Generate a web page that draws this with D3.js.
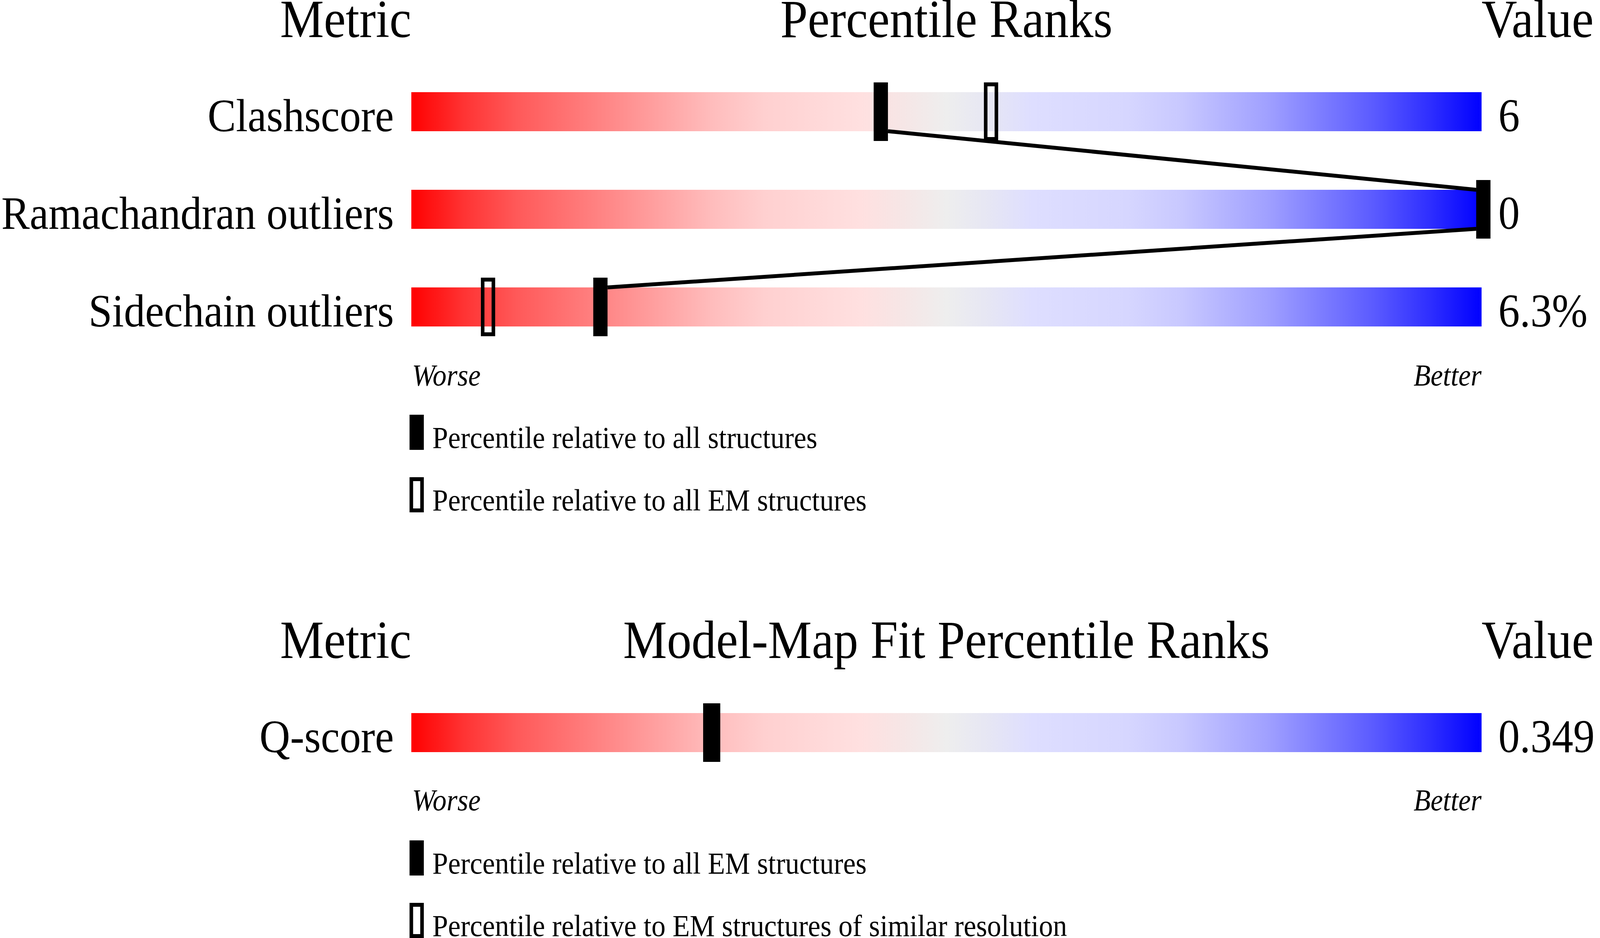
<!DOCTYPE html>
<html>
<head>
<meta charset="utf-8">
<script src="https://cdn.jsdelivr.net/npm/d3@7/dist/d3.min.js"></script>
<style>
  html, body { margin: 0; padding: 0; background: #ffffff; overflow: hidden; width: 100%; height: 100%; }
  svg { display: block; width: 100vw; height: 100vh; }
  text { font-family: "Liberation Serif", "Times New Roman", serif; fill: #000; }
</style>
</head>
<body>
<script>
// ---------------- DATA ----------------
const titles1 = ["Metric", "Percentile Ranks", "Value"];
const metrics1 = ["Clashscore", "Ramachandran outliers", "Sidechain outliers"];
const values1 = ["6", "0", "6.3%"];
const pctAll1 = [43.7, 100, 17.5];     // percentile relative to all structures (filled)
const pctEM1 = [54.0, null, 7.0];      // percentile relative to all EM structures (open)
const legend1 = ["Percentile relative to all structures", "Percentile relative to all EM structures"];

const titles2 = ["Metric", "Model-Map Fit Percentile Ranks", "Value"];
const metrics2 = ["Q-score"];
const values2 = ["0.349"];
const pctEM2 = [27.9];                 // percentile relative to all EM structures (filled)
const pctRes2 = [null];                // percentile relative to EM structures of similar resolution (open)
const legend2 = ["Percentile relative to all EM structures", "Percentile relative to EM structures of similar resolution"];

const axisEnds = ["Worse", "Better"];

const gradientStops = [
  [0.00, "#ff0000"], [0.05, "#ff3434"], [0.10, "#ff5a5a"], [0.20, "#ff9090"],
  [0.28, "#ffbcbc"], [0.33, "#ffd0d0"], [0.42, "#ffe0e0"], [0.46, "#f6e6e6"],
  [0.50, "#eeeeee"], [0.54, "#e6e6f4"], [0.58, "#dedeff"], [0.67, "#d6d6ff"],
  [0.72, "#c8c8ff"], [0.80, "#a0a0ff"], [0.90, "#5a5aff"], [0.95, "#3030ff"],
  [1.00, "#0000ff"]
];

// ---------------- LAYOUT ----------------
const W = 4485, H = 2402;
const barX0 = 1153, barX1 = 4153;
const labelGap = 49, valueGap = 47;
const markerShift = 5;

const svg = d3.select("body").append("svg")
  .attr("viewBox", `0 0 ${W} ${H}`)
  .attr("preserveAspectRatio", "none");

svg.append("rect").attr("width", W).attr("height", H).attr("fill", "#ffffff");

const grad = svg.append("defs").append("linearGradient")
  .attr("id", "rb").attr("x1", "0").attr("x2", "1").attr("y1", "0").attr("y2", "0");
grad.selectAll("stop").data(gradientStops).join("stop")
  .attr("offset", d => d[0]).attr("stop-color", d => d[1]);

const x = d3.scaleLinear().domain([0, 100]).range([barX0, barX1]);

function section(opts) {
  const g = svg.append("g");
  const y = d3.scaleBand().domain(opts.metrics)
    .range(opts.yRange).paddingInner(0.6).paddingOuter(0.3);
  const bh = y.bandwidth();
  const over = 25;

  // headers
  g.append("text").attr("x", barX0).attr("y", opts.headerY)
    .attr("text-anchor", "end").attr("font-size", 138).text(opts.titles[0]);
  g.append("text").attr("x", (barX0 + barX1) / 2).attr("y", opts.headerY)
    .attr("text-anchor", "middle").attr("font-size", 138).text(opts.titles[1]);
  g.append("text").attr("x", barX1).attr("y", opts.headerY)
    .attr("text-anchor", "start").attr("font-size", 138).text(opts.titles[2]);

  // bars
  g.selectAll("rect.bar").data(opts.metrics).join("rect")
    .attr("class", "bar")
    .attr("x", x(0)).attr("width", x(100) - x(0))
    .attr("y", d => y(d)).attr("height", bh)
    .attr("fill", "url(#rb)");

  // labels
  g.selectAll("text.lab").data(opts.metrics).join("text")
    .attr("class", "lab")
    .attr("x", barX0 - labelGap).attr("y", d => y(d) + bh)
    .attr("text-anchor", "end").attr("font-size", 119).text(d => d);

  // values
  g.selectAll("text.val").data(opts.values).join("text")
    .attr("class", "val")
    .attr("x", barX1 + valueGap).attr("y", (d, i) => y(opts.metrics[i]) + bh)
    .attr("text-anchor", "start").attr("font-size", 120).text(d => d);

  const mw = opts.markerW;
  const cx = p => x(p) + markerShift;

  // connecting lines between filled markers
  const pts = opts.filled.map((p, i) => ({ p, m: opts.metrics[i] })).filter(d => d.p != null);
  for (let i = 0; i < pts.length - 1; i++) {
    const a = pts[i], b = pts[i + 1];
    const right = cx(b.p) >= cx(a.p);
    const xa = right ? cx(a.p) + mw / 2 : cx(a.p) - mw / 2;
    const xb = right ? cx(b.p) - mw / 2 : cx(b.p) + mw / 2;
    g.append("line")
      .attr("x1", xa).attr("y1", y(a.m) + bh)
      .attr("x2", xb).attr("y2", y(b.m))
      .attr("stroke", "#000").attr("stroke-width", 10);
  }

  // open markers
  const sw = 10;
  g.selectAll("rect.open").data(opts.open.map((p, i) => ({ p, m: opts.metrics[i] })).filter(d => d.p != null))
    .join("rect").attr("class", "open")
    .attr("x", d => cx(d.p) - mw / 2 + sw / 2).attr("width", mw - sw)
    .attr("y", d => y(d.m) - over + sw / 2).attr("height", bh + 2 * over - sw)
    .attr("fill", "none").attr("stroke", "#000").attr("stroke-width", sw);

  // filled markers
  g.selectAll("rect.fill").data(pts).join("rect").attr("class", "fill")
    .attr("x", d => cx(d.p) - mw / 2).attr("width", mw)
    .attr("y", d => y(d.m) - over).attr("height", bh + 2 * over)
    .attr("fill", "#000");

  // worse / better
  g.append("text").attr("x", barX0 + 2).attr("y", opts.endsY)
    .attr("font-style", "italic").attr("font-size", 78).text(axisEnds[0]);
  g.append("text").attr("x", barX1).attr("y", opts.endsY)
    .attr("text-anchor", "end").attr("font-style", "italic").attr("font-size", 78).text(axisEnds[1]);

  // legend
  opts.legend.forEach((t, i) => {
    const top = opts.legendY + i * 160;
    if (i === 0) {
      g.append("rect").attr("x", 1148).attr("y", top).attr("width", 40).attr("height", 90).attr("fill", "#000");
    } else {
      g.append("rect").attr("x", 1148 + 5).attr("y", top + 5).attr("width", 30).attr("height", 80)
        .attr("fill", "none").attr("stroke", "#000").attr("stroke-width", 10);
    }
    g.append("text").attr("x", 1212).attr("y", top + 85)
      .attr("font-size", 79).text(t);
  });
}

section({
  titles: titles1, metrics: metrics1, values: values1,
  filled: pctAll1, open: pctEM1, legend: legend1,
  yRange: [161, 911], headerY: 95, endsY: 987, legendY: 1062, markerW: 40
});

section({
  titles: titles2, metrics: metrics2, values: values2,
  filled: pctEM2, open: pctRes2, legend: legend2,
  yRange: [1751, 2001], headerY: 1685, endsY: 2075, legendY: 2152, markerW: 48
});
</script>
</body>
</html>
